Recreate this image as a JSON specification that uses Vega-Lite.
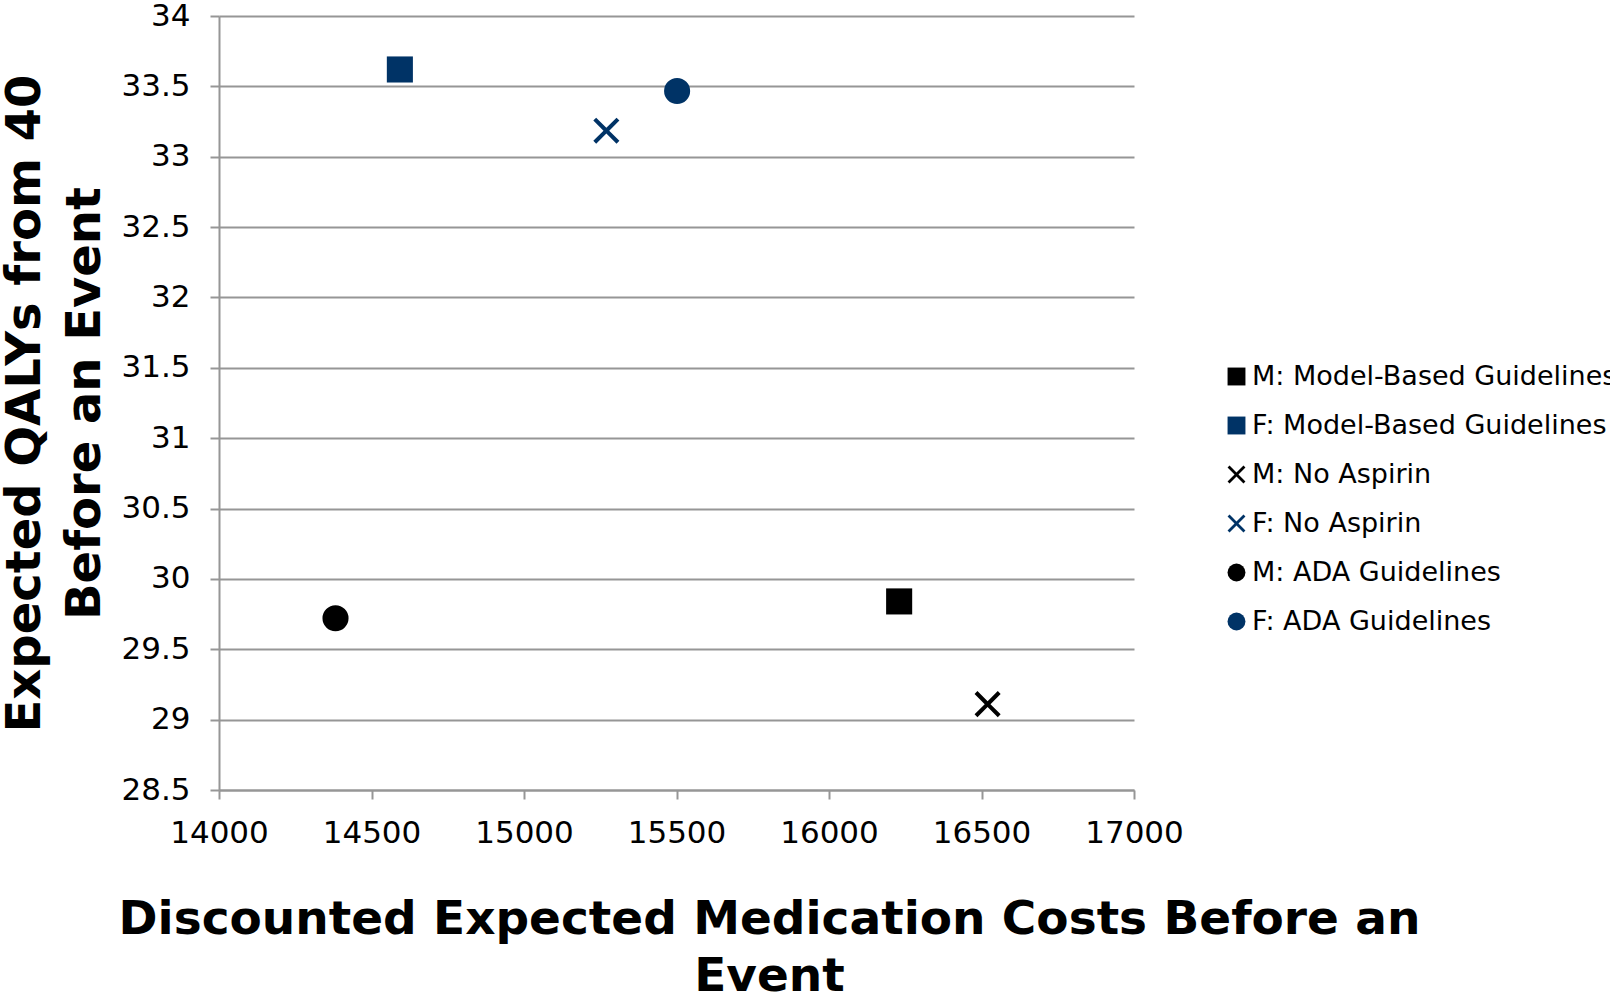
{
  "$schema": "https://vega.github.io/schema/vega-lite/v6.json",
  "autosize": {"type": "none"},
  "width": 915,
  "height": 774,
  "padding": {"left": 219, "top": 16, "right": 476, "bottom": 206},
  "background": "white",
  "config": {
    "font": "DejaVu Sans",
    "view": {"stroke": null},
    "axis": {
      "labelFont": "DejaVu Sans",
      "labelFontSize": 31,
      "labelColor": "#000000",
      "titleFont": "DejaVu Sans",
      "titleFontWeight": "bold",
      "titleColor": "#000000",
      "domainColor": "#969696",
      "domainWidth": 2,
      "tickColor": "#969696",
      "tickWidth": 2,
      "tickSize": 9,
      "gridColor": "#969696",
      "gridWidth": 2
    }
  },
  "data": {
    "values": [
      {"series": "M: Model-Based Guidelines", "cost": 16230, "qaly": 29.84},
      {"series": "F: Model-Based Guidelines", "cost": 14593, "qaly": 33.62},
      {"series": "M: No Aspirin", "cost": 16520, "qaly": 29.11},
      {"series": "F: No Aspirin", "cost": 15270, "qaly": 33.185},
      {"series": "M: ADA Guidelines", "cost": 14382, "qaly": 29.72},
      {"series": "F: ADA Guidelines", "cost": 15502, "qaly": 33.467}
    ]
  },
  "mark": {"type": "point", "filled": true, "opacity": 1, "size": 680},
  "encoding": {
    "x": {
      "field": "cost",
      "type": "quantitative",
      "scale": {"domain": [14000, 17000], "nice": false, "zero": false},
      "axis": {
        "values": [14000, 14500, 15000, 15500, 16000, 16500, 17000],
        "format": "d",
        "grid": false,
        "labelFlush": false,
        "labelPadding": 19,
        "title": ["Discounted Expected Medication Costs Before an", "Event"],
        "titleFontSize": 47,
        "titleLineHeight": 57,
        "titleBaseline": "top",
        "titleAnchor": "middle",
        "titleAlign": "center",
        "titleX": 550,
        "titleY": 106
      }
    },
    "y": {
      "field": "qaly",
      "type": "quantitative",
      "scale": {"domain": [28.5, 34], "nice": false, "zero": false},
      "axis": {
        "values": [28.5, 29, 29.5, 30, 30.5, 31, 31.5, 32, 32.5, 33, 33.5, 34],
        "format": "~g",
        "grid": true,
        "labelFlush": false,
        "labelPadding": 20,
        "title": ["Expected QALYs from 40", "Before an Event"],
        "titleFontSize": 48,
        "titleLineHeight": 60,
        "titleBaseline": "top",
        "titleAlign": "center",
        "titleAngle": -90,
        "titleX": -218,
        "titleY": 387
      }
    },
    "color": {
      "field": "series",
      "type": "nominal",
      "scale": {
        "domain": ["M: Model-Based Guidelines", "F: Model-Based Guidelines", "M: No Aspirin", "F: No Aspirin", "M: ADA Guidelines", "F: ADA Guidelines"],
        "range": ["#000000", "#003366", "#000000", "#003366", "#000000", "#003366"]
      },
      "legend": {
        "title": null,
        "orient": "none",
        "legendX": 1004,
        "legendY": 347,
        "labelFontSize": 27,
        "labelFont": "DejaVu Sans",
        "labelColor": "#000000",
        "labelOffset": 2,
        "symbolSize": 320,
        "rowPadding": 21,
        "labelLimit": 600
      }
    },
    "shape": {
      "field": "series",
      "type": "nominal",
      "scale": {
        "domain": ["M: Model-Based Guidelines", "F: Model-Based Guidelines", "M: No Aspirin", "F: No Aspirin", "M: ADA Guidelines", "F: ADA Guidelines"],
        "range": ["square", "square", "M-1,-0.78L-0.78,-1L0,-0.22L0.78,-1L1,-0.78L0.22,0L1,0.78L0.78,1L0,0.22L-0.78,1L-1,0.78L-0.22,0Z", "M-1,-0.78L-0.78,-1L0,-0.22L0.78,-1L1,-0.78L0.22,0L1,0.78L0.78,1L0,0.22L-0.78,1L-1,0.78L-0.22,0Z", "circle", "circle"]
      },
      "legend": {
        "title": null,
        "orient": "none",
        "legendX": 1004,
        "legendY": 347,
        "labelFontSize": 27,
        "labelFont": "DejaVu Sans",
        "labelColor": "#000000",
        "labelOffset": 2,
        "symbolSize": 320,
        "rowPadding": 21,
        "labelLimit": 600
      }
    }
  }
}
